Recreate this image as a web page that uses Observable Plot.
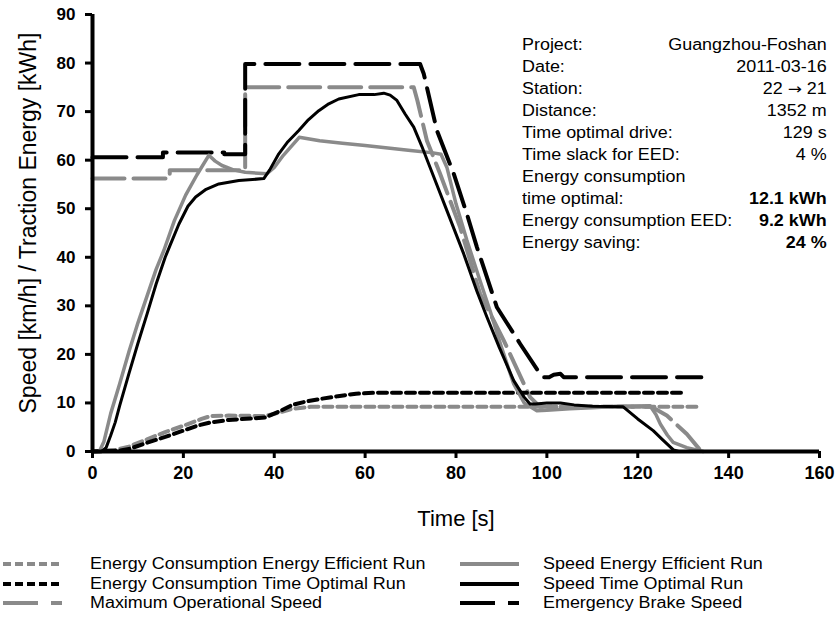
<!DOCTYPE html>
<html><head><meta charset="utf-8">
<script src="https://cdn.jsdelivr.net/npm/d3@7"></script>
<script src="https://cdn.jsdelivr.net/npm/@observablehq/plot@0.6"></script>
<style>
body{margin:0;background:#fff;font-family:"Liberation Sans",Arial,sans-serif;}
#wrap{position:relative;width:839px;height:621px;overflow:hidden;}
#chart svg{display:block;font-family:"Liberation Sans",Arial,sans-serif;}
#chart g[aria-label*="tick label"] text{font-weight:bold;fill:#000;}
#info{position:absolute;left:522px;top:34px;width:272px;transform:scaleX(1.12);transform-origin:left top;font-size:16px;line-height:22px;color:#000;}
#info .row{display:flex;justify-content:space-between;white-space:nowrap;}
#info .b{font-weight:bold;}
#info .arr{font-family:"DejaVu Sans",sans-serif;font-size:15px;}
.leg{position:absolute;font-size:16px;line-height:19.5px;color:#000;}
.leg .item{position:relative;height:19.5px;white-space:nowrap;}
.leg svg{position:absolute;left:0;top:0;}
.leg span{position:absolute;display:inline-block;transform:scaleX(1.12);transform-origin:left center;}
</style></head><body>
<div id="wrap"><div id="chart"></div><div id="info"></div><div id="legL" class="leg"></div><div id="legR" class="leg"></div></div>
<script>
const xTicks = [0, 20, 40, 60, 80, 100, 120, 140, 160];
const yTicks = [0, 10, 20, 30, 40, 50, 60, 70, 80, 90];
const xLabel = "Time [s]";
const yLabel = "Speed [km/h] / Traction Energy [kWh]";

// [time s, value]
const energyEE = [[0,0],[5,0.3],[8,1],[12,2.5],[16,4],[20,5.3],[24,6.7],[26,7.3],[30,7.4],[38,7.3],[41,8],[44,8.8],[48,9.2],[134,9.2]];
const energyTO = [[0,0],[6,0.2],[8,0.5],[12,1.8],[16,3],[20,4.3],[23,5.3],[26,6],[30,6.5],[35,6.8],[38,7],[41,8.2],[44,9.6],[47,10.3],[50,10.8],[54,11.4],[58,11.9],[62,12.1],[130,12.1]];
const maxOpSpeed = [[0,56.2],[17,56.2],[17,57.9],[33.6,57.9],[33.6,75],[70.7,75],[71.5,72.3],[73.6,64],[76.5,57.2],[80.9,46.2],[85.3,32.5],[90.5,22.9],[96.3,11.2],[98.5,9.2],[123,9.2],[126.4,7.4],[130.8,3.6],[134,0]];
const emergencyBrake = [[0,60.6],[15.5,60.6],[15.5,61.6],[29,61.6],[29,61.2],[33.6,61.2],[33.6,79.8],[72.1,79.8],[72.9,77.8],[75.8,66.1],[79.5,57.2],[82.4,48.9],[84.6,42.1],[89,29.7],[94.1,22.2],[98.5,16],[99.2,15.3],[100.5,15.3],[101.5,15.8],[103,16],[103.7,15.3],[134,15.3]];
const speedEE = [[1.5,0],[2.5,2],[4,7.8],[6,14],[8,20.5],[10,26.5],[12,32],[14,37.5],[15.7,41.4],[18,47.5],[20.5,52.8],[23,57],[25.6,61],[27,59.8],[28.5,58.9],[31,58],[33.6,57.5],[38.4,57.2],[40,58.5],[42,61],[45.5,64.7],[50,64],[55,63.5],[60,63],[65,62.5],[70,62],[75,61.5],[76.7,61.2],[78,58.5],[80,51],[82.4,43.5],[85,36],[87.5,29],[90,21.5],[92.7,13.9],[95,10],[97.8,8.4],[100,8.5],[105,8.8],[110,9],[116,9.3],[122.7,9.4],[124,7.6],[125,5.6],[126.5,3.4],[127.8,1.9],[130.8,0.8],[134.4,0]];
const speedTO = [[0,0],[2,0],[3,0.8],[4,3.3],[5,6],[6,9.5],[8,16],[10,22.3],[12,28.3],[14,34.5],[16,40],[17,42.3],[19,46.8],[21,50.5],[22.7,52.4],[25,54],[27.8,55.1],[32.2,55.8],[37.7,56.2],[39,58],[41,61.3],[43,63.8],[45.4,66.1],[47.5,68.3],[49.8,70.2],[52,71.6],[54.2,72.6],[58.6,73.5],[62,73.5],[64.1,73.8],[65.5,73.4],[67,72.3],[68.8,69.5],[70.7,66.8],[72.5,62.8],[74.3,58.5],[78,49.6],[81.7,40.7],[84.6,33],[86.8,27.7],[89.5,21.5],[92.7,14.6],[95,11.2],[96.3,9.8],[97.5,9.8],[100,10],[103,10],[106,9.6],[110,9.3],[116.8,9.2],[120,6.7],[123.4,4.3],[125.5,2.4],[127.9,0.3],[129,0]];

const infoRows = [
  ["Project:", "Guangzhou-Foshan", false],
  ["Date:", "2011-03-16", false],
  ["Station:", "22 \u2192 21", false],
  ["Distance:", "1352 m", false],
  ["Time optimal drive:", "129 s", false],
  ["Time slack for EED:", "4 %", false],
  ["Energy consumption", "", false],
  ["time optimal:", "12.1 kWh", true],
  ["Energy consumption EED:", "9.2 kWh", true],
  ["Energy saving:", "24 %", true]
];

const GRAY = "#8a8a8a";
const legendLeft = [
  {label:"Energy Consumption Energy Efficient Run", stroke:GRAY, dash:"8,4", w:4},
  {label:"Energy Consumption Time Optimal Run", stroke:"#000", dash:"8,4", w:4},
  {label:"Maximum Operational Speed", stroke:GRAY, dash:"35,13", w:4}
];
const legendRight = [
  {label:"Speed Energy Efficient Run", stroke:GRAY, dash:null, w:4},
  {label:"Speed Time Optimal Run", stroke:"#000", dash:null, w:4},
  {label:"Emergency Brake Speed", stroke:"#000", dash:"35,13", w:4}
];

const X = d => d[0], Y = d => d[1];
const chart = Plot.plot({
  width: 839, height: 540,
  marginTop: 14, marginBottom: 89, marginLeft: 92, marginRight: 20,
  x: {domain: [0, 160]},
  y: {domain: [0, 90]},
  marks: [
    Plot.line(maxOpSpeed, {x: X, y: Y, stroke: GRAY, strokeWidth: 4, strokeDasharray: "32,9"}),
    Plot.line(emergencyBrake, {x: X, y: Y, stroke: "#000", strokeWidth: 4, strokeDasharray: "34,11"}),
    Plot.line(energyEE, {x: X, y: Y, stroke: GRAY, strokeWidth: 4, strokeDasharray: "9,5"}),
    Plot.line(energyTO, {x: X, y: Y, stroke: "#000", strokeWidth: 4, strokeDasharray: "9,5"}),
    Plot.line(speedEE, {x: X, y: Y, stroke: GRAY, strokeWidth: 3.5, strokeLinejoin: "round"}),
    Plot.line(speedTO, {x: X, y: Y, stroke: "#000", strokeWidth: 3, strokeLinejoin: "round"}),
    Plot.ruleY([0], {stroke: "#000", strokeWidth: 4}),
    Plot.ruleX([0], {stroke: "#000", strokeWidth: 4}),
    Plot.axisX({ticks: xTicks, tickSize: 7, tickPadding: 8, fontSize: 18, fontWeight: "bold", strokeWidth: 3, stroke: "#000", label: null, tickFormat: d => String(d)}),
    Plot.axisY({ticks: yTicks, tickSize: 7, tickPadding: 10, fontSize: 17, fontWeight: "bold", strokeWidth: 3, stroke: "#000", label: null, tickFormat: d => String(d)}),
    Plot.text([xLabel], {frameAnchor: "bottom", dy: 67, text: d => d, fontSize: 22, fill: "#000", lineAnchor: "middle"}),
    Plot.text([yLabel], {frameAnchor: "left", dx: -64, dy: -10, rotate: -90, text: d => d, fontSize: 23, fill: "#000", lineAnchor: "middle", textAnchor: "middle"})
  ]
});
document.getElementById("chart").appendChild(chart);

const info = document.getElementById("info");
infoRows.forEach(([k, v, b]) => {
  const r = document.createElement("div"); r.className = "row";
  const a = document.createElement("span"); a.textContent = k;
  const c = document.createElement("span");
  if (v.includes("\u2192")) {
    const parts = v.split("\u2192");
    c.appendChild(document.createTextNode(parts[0]));
    const ar = document.createElement("span"); ar.className = "arr"; ar.textContent = "\u2192";
    c.appendChild(ar);
    c.appendChild(document.createTextNode(parts[1]));
  } else c.textContent = v;
  if (b) c.className = "b";
  r.appendChild(a); r.appendChild(c); info.appendChild(r);
});

function buildLegend(el, items, left, top, textX) {
  el.style.left = left + "px"; el.style.top = top + "px";
  items.forEach(it => {
    const row = document.createElement("div"); row.className = "item";
    const ns = "http://www.w3.org/2000/svg";
    const s = document.createElementNS(ns, "svg");
    s.setAttribute("width", 62); s.setAttribute("height", 19.5);
    const l = document.createElementNS(ns, "line");
    l.setAttribute("x1", 1); l.setAttribute("x2", 60); l.setAttribute("y1", 10); l.setAttribute("y2", 10);
    l.setAttribute("stroke", it.stroke); l.setAttribute("stroke-width", it.w);
    if (it.dash) l.setAttribute("stroke-dasharray", it.dash);
    s.appendChild(l); row.appendChild(s);
    const t = document.createElement("span"); t.textContent = it.label; t.style.left = textX + "px";
    row.appendChild(t); el.appendChild(row);
  });
}
buildLegend(document.getElementById("legL"), legendLeft, 2, 554, 88);
buildLegend(document.getElementById("legR"), legendRight, 459, 554, 84);
</script>
</body></html>
